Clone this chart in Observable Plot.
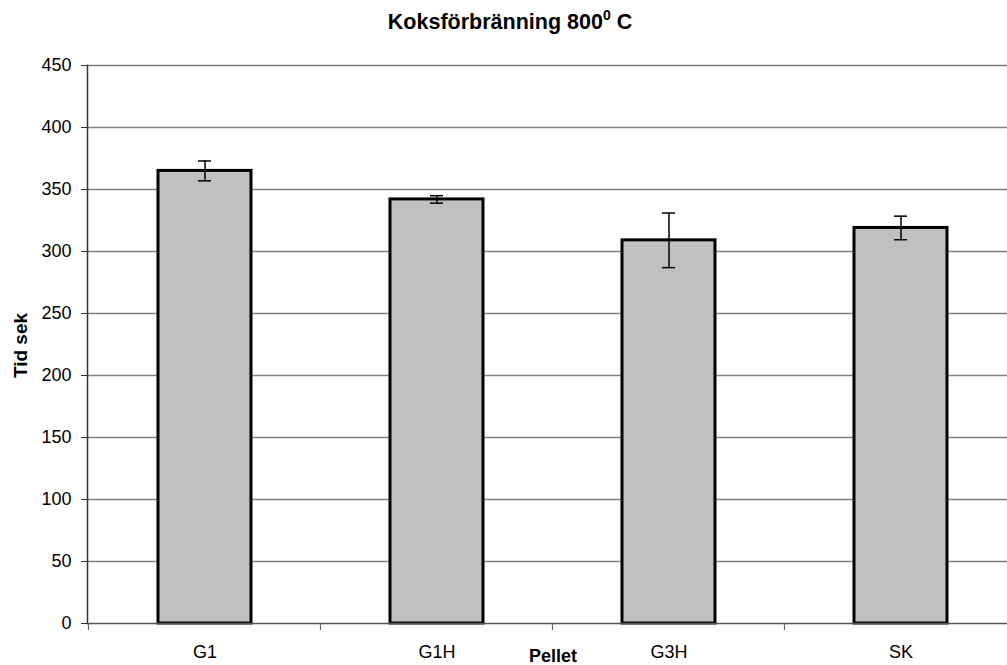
<!DOCTYPE html>
<html>
<head>
<meta charset="utf-8">
<script src="https://cdn.jsdelivr.net/npm/d3@7"></script>
<script src="https://cdn.jsdelivr.net/npm/@observablehq/plot@0.6"></script>
<style>
  html, body { margin: 0; padding: 0; background: #fff; overflow: hidden; }
  body { width: 1007px; height: 665px; font-family: "Liberation Sans", Arial, sans-serif; }
  #title { height: 48px; position: relative; }
  #title span { position: absolute; left: 0; width: 1020px; text-align: center; top: 10px;
    font-weight: bold; font-size: 21.5px; }
  #title sup { font-size: 14px; vertical-align: 9px; line-height: 0; }
  #chart { width: 1007px; height: 617px; overflow: hidden; }
  #chart svg { max-width: none !important; display: block; }
</style>
</head>
<body>
<div id="title"><span>Koksförbränning 800<sup>0</sup> C</span></div>
<div id="chart"></div>
<script>
const categories = ["G1", "G1H", "G3H", "SK"];
const means = [365, 342, 309, 319];
const errors = [8, 3, 22, 9.5];
const yTicks = [0, 50, 100, 150, 200, 250, 300, 350, 400, 450];
const xLabel = "Pellet";
const yLabel = "Tid sek";

const data = categories.map((c, i) => ({cat: c, mean: means[i], err: errors[i]}));

// vertical tick marks at band boundaries on the x axis
function bandBoundaryTicks(index, scales, values, dims) {
  const x = scales.x;
  const step = x.step();
  const po = x.paddingOuter();
  const y0 = dims.height - dims.marginBottom;
  const g = d3.create("svg:g");
  const edges = categories.map(c => x(c) - po * step);
  edges.push(x(categories[categories.length - 1]) - po * step + step);
  for (const e of edges) {
    g.append("line").attr("x1", e).attr("x2", e).attr("y1", y0).attr("y2", y0 + 7)
      .attr("stroke", "#555").attr("stroke-width", 1);
  }
  return g.node();
}

const plot = Plot.plot({
  width: 1031,
  height: 617,
  marginLeft: 87,
  marginRight: 13,
  marginTop: 17,
  marginBottom: 42,
  style: {fontFamily: "'Liberation Sans', Arial, sans-serif", fontSize: "18px", color: "#000", overflow: "visible"},
  x: {domain: categories, paddingInner: 0.6, paddingOuter: 0.3, label: null},
  y: {domain: [0, 450], ticks: yTicks, label: null},
  marks: [
    Plot.ruleY(yTicks.filter(d => d > 0), {stroke: "#808080", strokeWidth: 1.5}),
    Plot.barY(data, {x: "cat", y: "mean", fill: "#c0c0c0", stroke: "#000", strokeWidth: 3, inset: 0}),
    Plot.ruleX(data, {x: "cat", y1: d => d.mean - d.err, y2: d => d.mean + d.err, stroke: "#000", strokeWidth: 1.5}),
    Plot.tickY(data, {x: "cat", y: d => d.mean + d.err, stroke: "#000", strokeWidth: 1.5, inset: 40}),
    Plot.tickY(data, {x: "cat", y: d => d.mean - d.err, stroke: "#000", strokeWidth: 1.5, inset: 40}),
    Plot.ruleY([0], {stroke: "#555", strokeWidth: 1.5}),
    Plot.frame({anchor: "left", stroke: "#333", strokeWidth: 1.5}),
    Plot.axisY({ticks: yTicks, tickSize: 6, tickPadding: 10, label: null, stroke: "#333"}),
    Plot.axisX({tickSize: 0, tickPadding: 22, label: null}),
    bandBoundaryTicks,
    Plot.text([xLabel], {frameAnchor: "bottom", lineAnchor: "top", dy: 26, fontWeight: "bold", fontSize: 18}),
    Plot.text([yLabel], {frameAnchor: "left", textAnchor: "middle", rotate: -90, dx: -67, dy: 1, fontWeight: "bold", fontSize: 19})
  ]
});
document.getElementById("chart").appendChild(plot);
</script>
</body>
</html>
